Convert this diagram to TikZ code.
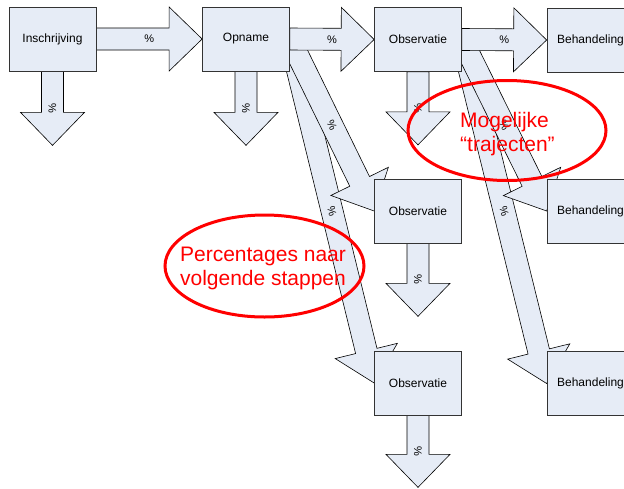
\documentclass[tikz,border=0pt]{standalone}
\usepackage{fontspec}
\setmainfont{Liberation Sans}
\usetikzlibrary{calc}
\pgfdeclarelayer{bg}
\pgfsetlayers{bg,main}
\definecolor{boxfill}{RGB}{230,236,246}
\definecolor{pred}{RGB}{255,0,0}
\tikzset{
  box/.style={draw=black!80, fill=boxfill, minimum width=87pt, minimum height=64pt, inner sep=0pt, font=\fontsize{12}{14}\selectfont, line width=0.7pt},
  barrow/.style={draw=black, fill=boxfill, line width=0.6pt, line join=miter},
  pct/.style={font=\fontsize{11}{13}\selectfont, inner sep=0pt},
  redring/.style={draw=pred, line width=3pt},
  redtext/.style={text=pred, font=\fontsize{21}{24}\selectfont, inner sep=0pt}
}
% #1 start, #2 end, #3 name prefix
\newcommand\blockarrow[3]{%
  \coordinate (#3s) at (#1);
  \coordinate (#3e) at (#2);
  \coordinate (#3h) at ($(#3e)!33pt!(#3s)$);
  \filldraw[barrow] ($(#3s)!11pt!90:(#3e)$) -- ($(#3h)!11pt!90:(#3e)$) -- ($(#3h)!32pt!90:(#3e)$) -- (#3e) -- ($(#3h)!32pt!-90:(#3e)$) -- ($(#3h)!11pt!-90:(#3e)$) -- ($(#3s)!11pt!-90:(#3e)$) -- cycle;
  \path (#3s) -- node[pct, sloped] {\%} (#3e);
}
\begin{document}
\begin{tikzpicture}[x=1pt,y=-1pt]
\clip (0,0) rectangle (624,488);
% boxes
\node[box] (ins)  at (52.5,39)  {Inschrijving};
\node[box] (opn)  at (246,39)   {Opname};
\node[box] (obsA) at (418,39.5) {Observatie};
\node[box] (behA) at (590.5,40) {Behandeling};
\node[box] (obsB) at (418,211)  {Observatie};
\node[box] (behB) at (590.5,211){Behandeling};
\node[box] (obsC) at (418,383)  {Observatie};
\node[box] (behC) at (590.5,383.5){Behandeling};
% free ends of the downward arrows
\coordinate (insD)  at ($(ins.south)+(0,74)$);
\coordinate (opnD)  at ($(opn.south)+(0,74)$);
\coordinate (obsAD) at ($(obsA.south)+(0,73)$);
\coordinate (obsBD) at ($(obsB.south)+(0,73)$);
\coordinate (obsCD) at ($(obsC.south)+(0,72)$);
\begin{pgfonlayer}{bg}
  \blockarrow{opn.east}{obsC.west}{d1}
  \blockarrow{opn.east}{obsB.west}{d2}
  \blockarrow{obsA.east}{behC.west}{d3}
  \blockarrow{obsA.east}{behB.west}{d4}
  \blockarrow{ins.east}{opn.west}{h1}
  \blockarrow{opn.east}{obsA.west}{h2}
  \blockarrow{obsA.east}{behA.west}{h3}
  \blockarrow{ins.south}{insD}{v1}
  \blockarrow{opn.south}{opnD}{v2}
  \blockarrow{obsA.south}{obsAD}{v3}
  \blockarrow{obsB.south}{obsBD}{v4}
  \blockarrow{obsC.south}{obsCD}{v5}
\end{pgfonlayer}
% annotations
\draw[redring] (507,130.5) ellipse [x radius=99, y radius=50];
\node[redtext, anchor=north west, align=left] (t1) at (460,111.7) {Mogelijke\\“trajecten”};
\draw[redring] (264.5,266) ellipse [x radius=99.5, y radius=51];
\node[redtext, anchor=north, align=center] (t2) at (263,247) {Percentages naar\\volgende stappen};
\end{tikzpicture}
\end{document}
